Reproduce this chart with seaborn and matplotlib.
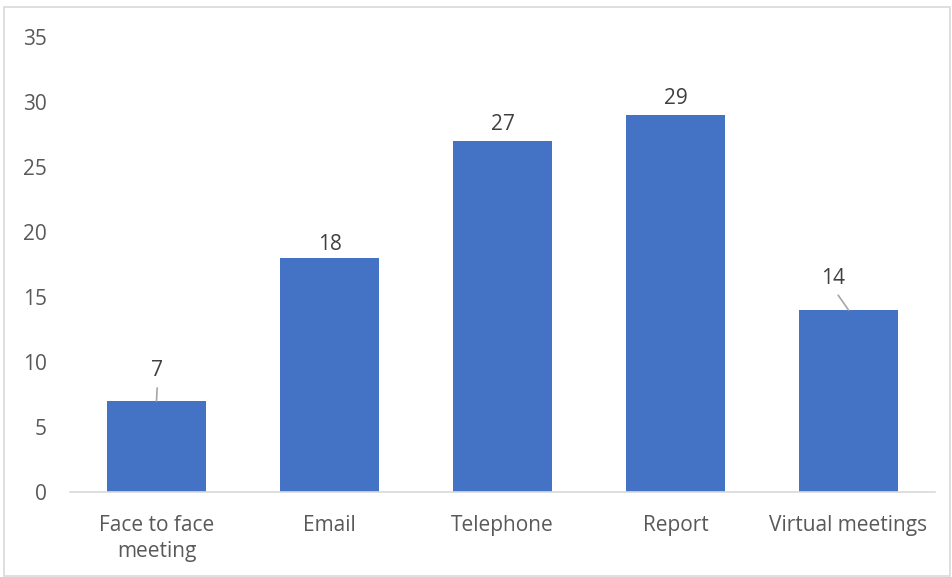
import matplotlib
matplotlib.use("Agg")
import matplotlib.pyplot as plt
import seaborn as sns
import pandas as pd
from matplotlib.patches import Rectangle

categories = ["Face to face\nmeeting", "Email", "Telephone", "Report", "Virtual meetings"]
values = [7, 18, 27, 29, 14]
y_ticks = [0, 5, 10, 15, 20, 25, 30, 35]

# label offsets (pixels) from the top centre of each bar; leader line drawn when far away
label_offsets = [(1, 31), (0, 13), (0, 17), (0, 16), (-15, 32)]
leader = [True, False, False, False, True]

sns.set_theme(style="white")
plt.rcParams["font.family"] = ["Open Sans", "DejaVu Sans"]

df = pd.DataFrame({"category": categories, "value": values})

fig = plt.figure(figsize=(9.53, 5.77), dpi=100)
ax = fig.add_axes([70 / 953, 1 - 492 / 577, 865 / 953, 455 / 577])

sns.barplot(data=df, x="category", y="value", color="#4472C4", width=0.572,
            saturation=1, ax=ax, edgecolor="none")

ax.set_ylim(0, 35)
ax.set_yticks(y_ticks)
ax.set_xlim(-0.5, len(categories) - 0.5)
ax.set_xlabel("")
ax.set_ylabel("")
for s in ["top", "right", "left"]:
    ax.spines[s].set_visible(False)
ax.spines["bottom"].set_color("#D9D9D9")
ax.spines["bottom"].set_linewidth(1.2)
ax.tick_params(axis="both", length=0, labelsize=15, colors="#595959")
ax.tick_params(axis="y", pad=16.5)
ax.tick_params(axis="x", pad=16.5)
for lbl in ax.get_yticklabels():
    lbl.set_horizontalalignment("right")
for lbl in ax.get_xticklabels():
    lbl.set_linespacing(1.32)

for i, (v, off, ld) in enumerate(zip(values, label_offsets, leader)):
    props = dict(arrowstyle="-", color="#A6A6A6", lw=1.2, shrinkA=3, shrinkB=0,
                 relpos=(0.5, 0.0)) if ld else None
    ax.annotate(str(v), xy=(i, v), xytext=off, textcoords="offset pixels",
                ha="center", va="center", fontsize=15, color="#404040",
                arrowprops=props)

fig.patches.append(Rectangle((4 / 953, 0.002), 946 / 953, 1 - 7 / 577 - 0.002,
                             transform=fig.transFigure, fill=False,
                             edgecolor="#D9D9D9", lw=1.2))

fig.savefig("out.png", dpi=100, facecolor="white")
